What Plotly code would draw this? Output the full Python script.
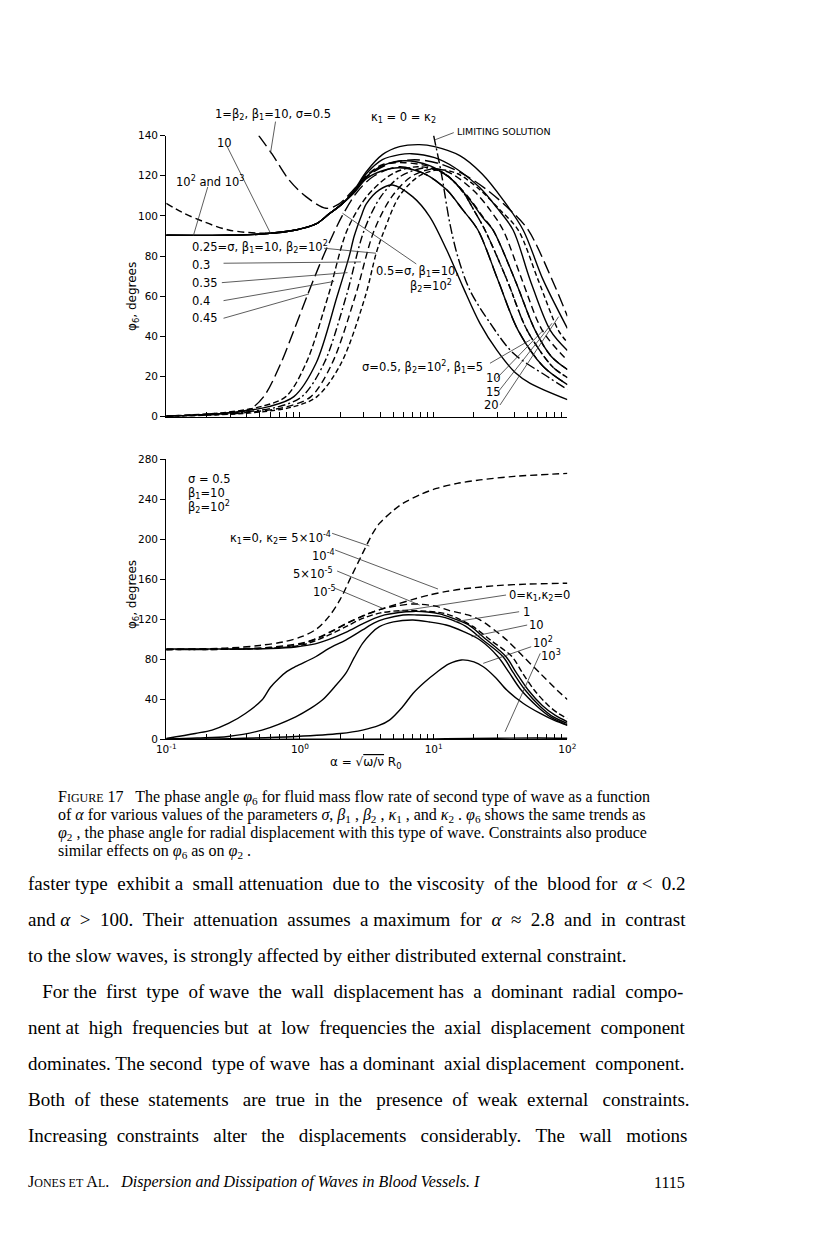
import plotly.graph_objects as go

# ================= DATA: top panel  (kappa1 = 0 = kappa2) =================
# alpha values (x, log axis) and phase angle phi6 in degrees (y)
alpha_b2_1 = [0.492, 0.616, 0.827, 1.110, 1.568, 1.964, 2.637, 3.478, 4.669, 7.197, 11.10, 16.52, 25.03, 37.27, 50.91, 77.13, 100]
phi_b2_1 = [140, 131, 118, 109.6, 103.8, 106, 114.5, 121.5, 126, 128, 126, 121, 113, 103, 93, 68, 50]

alpha_b2_10 = [0.1, 0.1297, 0.1652, 0.2925, 0.5846, 0.933, 1.319, 1.652, 2.069, 2.547, 3.136, 4.136, 6.053, 9.330, 13.19, 18.65, 23.36, 27.77, 40.64, 57.4, 75.8, 100]
phi_b2_10 = [106.3, 102, 98.8, 93, 91.4, 93, 96, 101, 106, 112.5, 120, 125.5, 126.5, 124.5, 119, 108.5, 99.5, 93, 68, 43, 30, 23.5]

alpha_b1_20 = [0.1, 0.2925, 0.518, 0.933, 1.319, 1.652, 2.069, 2.547, 3.136, 4.136, 5.551, 7.848, 10.17, 15.69, 22.96, 33.03, 46.68, 66.01, 100]
phi_b1_20 = [90.4, 90.4, 91, 93, 96, 101, 106, 113, 122, 130.5, 134.5, 135.5, 134.5, 130, 121, 108, 93, 68, 44]

alpha_b1_15 = [0.1, 0.2925, 0.518, 0.933, 1.319, 1.652, 2.069, 2.547, 3.136, 4.136, 5.551, 6.833, 10.17, 14.39, 22.18, 29.77, 39.26, 52.71, 74.50, 100]
phi_b1_15 = [90.4, 90.4, 91, 93, 96, 101, 106, 112.5, 121, 128, 130.5, 131, 129, 124, 114, 104, 93, 68, 43, 33]

alpha_ref = [0.1, 0.2925, 0.518, 0.933, 1.319, 1.652, 2.069, 2.547, 3.136, 4.136, 6.053, 9.330, 13.19, 18.65, 23.36, 27.77, 40.64, 57.4, 75.8, 100]
phi_ref = [90.4, 90.4, 91, 93, 96, 101, 106, 112, 119.5, 125, 127.5, 125, 119, 108, 99, 93, 68, 43, 30, 23.5]

alpha_b1_5 = [0.1, 0.2925, 0.518, 0.933, 1.319, 1.652, 2.069, 2.547, 3.136, 4.136, 5.551, 8.557, 12.52, 16.52, 21.42, 30.28, 42.81, 66.01, 100]
phi_b1_5 = [90.4, 90.4, 91, 93, 96, 101, 106, 111.5, 118.5, 122.5, 124, 121, 113, 103, 93, 68, 43, 25, 16]

alpha_s45 = [0.1, 0.2256, 0.4135, 0.536, 0.720, 0.901, 1.129, 1.390, 1.652, 2.069, 2.683, 3.601, 5.551, 8.557, 12.52, 16.52, 21.42, 30.28, 42.81, 66.01, 100]
phi_s45 = [0.3, 1.5, 3.5, 10, 26.6, 43, 60, 75, 86.5, 100, 112, 120, 124.5, 121, 113, 103, 93, 68, 43, 25, 16]

alpha_s40 = [0.1, 0.2683, 0.5089, 0.785, 1.110, 1.624, 2.256, 3.191, 4.918, 7.581, 12.10, 16.52, 20.33, 24.18, 35.40, 50.03, 77.13, 100]
phi_s40 = [0.3, 2, 5, 10, 26.6, 60, 93, 110, 121, 124.5, 121, 112, 102, 93, 68, 43, 25, 19.5]

alpha_s_solid = [0.1, 0.3029, 0.5846, 0.901, 1.319, 1.897, 2.336, 2.547, 2.875, 3.136, 3.926, 4.918, 6.952, 9.330, 12.52, 16.52, 22.18, 29.77, 40.64, 52.71, 100]
phi_s_solid = [0.2, 2, 5, 10, 26.6, 60, 80, 90, 100, 106, 113, 115.4, 109.6, 99.7, 83, 64.8, 46.5, 33, 22, 16.6, 8.5]

alpha_s35 = [0.1, 0.348, 0.695, 1.035, 1.515, 2.218, 3.028, 4.064, 5.746, 9.015, 12.10, 16.52, 20.33, 24.18, 35.40, 50.03, 77.13, 100]
phi_s35 = [0.2, 2, 5, 10, 26.6, 60, 93, 110, 120, 124, 121, 112, 102, 93, 68, 43, 25, 19.5]

alpha_s30 = [0.1, 0.3926, 0.7985, 1.210, 1.740, 2.591, 3.601, 4.918, 6.952, 10.17, 13.66, 20.33, 26.37, 33.03, 45.88, 64.9, 100]
phi_s30 = [0.1, 2, 5, 10, 26.6, 60, 93, 110, 120, 123.5, 121, 112, 103, 93, 68, 43, 28]

alpha_s25 = [0.1, 0.4510, 0.901, 1.342, 2.033, 3.082, 3.727, 4.281, 5.551, 7.848, 11.10, 15.15, 22.18, 31.35, 42.81, 60.53, 85.6, 100]
phi_s25 = [0.1, 2, 5, 10, 26.6, 60, 81.7, 93, 110, 120, 123, 121, 113, 103, 93, 68, 43, 37]

alpha_limit = [10.0, 11.43, 13.19, 15.15, 18.65, 26.37, 39.26, 70.73, 100]
phi_limit = [140, 121, 96.5, 79.7, 63, 46.7, 31.7, 20, 13.5]

# ================= DATA: bottom panel (sigma=0.5, beta1=10, beta2=10^2) =================
alpha_k2_5e4 = [0.1, 0.3, 0.5, 0.75, 1.04, 1.35, 1.65, 2.0, 2.4, 2.94, 3.5, 3.93, 5.0, 5.88, 8.0, 10.5, 15, 22.2, 40, 100]
phi_k2_5e4 = [90, 91.5, 94, 97.5, 103, 111, 123, 140, 162, 186, 206, 216, 229, 236, 245, 251, 256, 259.5, 263, 266]

alpha_k2_1e4 = [0.1, 0.3, 0.6, 1.04, 1.4, 1.85, 2.5, 3.3, 4.2, 5.24, 7.0, 9.33, 12.5, 16.6, 29.6, 50, 100]
phi_k2_1e4 = [90, 90.6, 92.2, 96.5, 102, 110, 119, 126, 131, 135, 140, 144.5, 148, 150.5, 153.8, 155.3, 156.2]

alpha_k2_5e5 = [0.1, 0.5, 1.04, 1.65, 2.3, 2.94, 4.0, 5.24, 7.2, 10.5, 13, 18, 22.2, 26.4, 35.2, 46.9, 62.7, 83.6, 100]
phi_k2_5e5 = [90, 91, 95.5, 107, 117, 123.5, 130, 133.5, 135.5, 133, 129, 124.5, 119.5, 112.7, 99.4, 82.7, 66, 49.4, 40]

alpha_k2_1e5 = [0.1, 0.5, 1.04, 1.65, 2.3, 2.94, 4.0, 5.9, 8.0, 12.1, 15.15, 19.64, 26.83, 38.6, 45.88, 56.5, 72.0, 85.6, 100]
phi_k2_1e5 = [90, 90.8, 94.5, 104.5, 114, 121, 126.5, 129, 128.5, 126, 121, 113, 99, 82.7, 67, 49.4, 34, 26, 21]

alpha_k0 = [0.1, 0.3, 0.6, 0.93, 1.3, 1.65, 2.2, 2.94, 3.6, 4.3, 5.5, 7.0, 9.0, 11.10, 13.66, 18.02, 24.18, 34.78, 41.36, 50.91, 64.9, 81.3, 100]
phi_k0 = [90.4, 90.4, 91, 92.5, 95.5, 100, 107, 115.5, 121, 124.5, 127, 128, 127.5, 125.5, 121.5, 115, 101, 82.7, 67, 49.4, 34, 24, 17.7]

alpha_k1 = [0.1, 0.165, 0.22, 0.292, 0.391, 0.52, 0.60, 0.695, 0.80, 0.93, 1.31, 1.65, 2.2, 2.94, 3.6, 4.3, 5.9, 7.5, 11.10, 13.66, 17.4, 23.36, 33.03, 39.26, 48.33, 62.66, 78.5, 100]
phi_k1 = [1, 6, 9.4, 16, 26, 39.4, 52, 61, 68, 73, 82.7, 91, 99.4, 109.5, 116.5, 120.5, 124.5, 124.5, 123, 119.5, 113, 99.5, 82.7, 67, 49.4, 33, 22.5, 16]

alpha_k10 = [0.1, 0.17, 0.29, 0.52, 0.93, 1.2, 1.47, 1.8, 2.2, 2.55, 2.94, 3.4, 3.93, 5.0, 7.0, 9.3, 12.4, 16.6, 22.2, 30.28, 36.6, 45.1, 59.5, 75.8, 100]
phi_k10 = [0.5, 1.5, 3, 9.4, 22.7, 31, 39.4, 52, 66, 82, 96, 106, 112.7, 117.5, 119.4, 117.5, 114.4, 108, 99.4, 82.7, 67, 49.4, 33, 22, 14.4]

alpha_k100 = [0.1, 0.3, 0.93, 2.0, 2.94, 3.9, 4.67, 5.8, 7.0, 8.5, 10.5, 13, 16.1, 20, 23.5, 29, 35.2, 46.9, 62.7, 80, 100]
phi_k100 = [0.2, 0.8, 3, 6, 9.4, 14, 19.4, 32, 46, 57, 67, 75.5, 79.5, 77.5, 72.7, 62, 49.4, 36, 26, 19, 14]

alpha_k1000 = [0.1, 1, 10, 30, 60, 100]
phi_k1000 = [0, 0.2, 0.6, 1.2, 1.5, 1.2]

# axis ticks
x_major = [0.1, 1, 10, 100]
x_major_text = ["10<sup>-1</sup>", "10<sup>0</sup>", "10<sup>1</sup>", "10<sup>2</sup>"]
x_minor = [0.2, 0.3, 0.4, 0.5, 0.6, 0.7, 0.8, 0.9,
           2, 3, 4, 5, 6, 7, 8, 9,
           20, 30, 40, 50, 60, 70, 80, 90]
y_top_ticks = [0, 20, 40, 60, 80, 100, 120, 140]
y_bot_ticks = [0, 40, 80, 120, 160, 200, 240, 280]

# ================= LAYOUT HELPERS =================
W, H = 800, 1231      # figure size; the page body adds an 8 px margin
OX, OY = 8, 8
# empirical correction between requested and photographed page positions
KX, BX = 0.971, 12.8
KY, BY = 0.990, 6.2


def px(X):
    return ((X - BX) / KX - OX) / W


def py(Y):
    return 1 - ((Y - BY) / KY - OY) / H


DASH = "7px,4px"
SDASH = "5px,3px"
LDASH = "13px,5px"
DDOT = "8px,3px,2px,3px"

top_traces = [
    (alpha_b2_1, phi_b2_1, LDASH),
    (alpha_b2_10, phi_b2_10, DASH),
    (alpha_b1_20, phi_b1_20, "solid"),
    (alpha_b1_15, phi_b1_15, "solid"),
    (alpha_ref, phi_ref, "solid"),
    (alpha_b1_5, phi_b1_5, "solid"),
    (alpha_s45, phi_s45, LDASH),
    (alpha_s40, phi_s40, "6px,3px"),
    (alpha_s_solid, phi_s_solid, "solid"),
    (alpha_s35, phi_s35, DDOT),
    (alpha_s30, phi_s30, DASH),
    (alpha_s25, phi_s25, SDASH),
    (alpha_limit, phi_limit, "10px,3px,2px,3px"),
]
bot_traces = [
    (alpha_k2_5e4, phi_k2_5e4, DASH),
    (alpha_k2_1e4, phi_k2_1e4, DASH),
    (alpha_k2_5e5, phi_k2_5e5, DASH),
    (alpha_k2_1e5, phi_k2_1e5, "6px,3px"),
    (alpha_k0, phi_k0, "solid"),
    (alpha_k1, phi_k1, "solid"),
    (alpha_k10, phi_k10, "solid"),
    (alpha_k100, phi_k100, "solid"),
    (alpha_k1000, phi_k1000, "solid"),
]

fig = go.Figure()
for xs, ys, d in top_traces:
    fig.add_trace(go.Scatter(x=xs, y=ys, mode="lines", xaxis="x", yaxis="y",
                             line=dict(color="black", width=1.4, dash=d, shape="spline", smoothing=0.9),
                             showlegend=False, hoverinfo="skip"))
for xs, ys, d in bot_traces:
    fig.add_trace(go.Scatter(x=xs, y=ys, mode="lines", xaxis="x2", yaxis="y2",
                             line=dict(color="black", width=1.4, dash=d, shape="spline", smoothing=0.9),
                             showlegend=False, hoverinfo="skip"))

SANS = "DejaVu Sans"
SERIF = "Liberation Serif"
all_x_ticks = sorted(x_major + x_minor)
bot_text = [x_major_text[x_major.index(v)] if v in x_major else "" for v in all_x_ticks]

common_x = dict(type="log", range=[-1, 2], domain=[px(168), px(567)], showline=True,
                linecolor="black", linewidth=1.2, ticks="inside", ticklen=5, tickwidth=1,
                tickcolor="black", showgrid=False, zeroline=False, tickmode="array",
                tickvals=all_x_ticks)
common_y = dict(showline=True, linecolor="black", linewidth=1.2, ticks="outside", ticklen=5,
                tickwidth=1, tickcolor="black", showgrid=False, zeroline=False, tickmode="array",
                tickfont=dict(family=SANS, size=10.5, color="black"))

fig.update_layout(
    width=W, height=H, margin=dict(l=0, r=0, t=0, b=0),
    paper_bgcolor="white", plot_bgcolor="white",
    font=dict(family=SANS, size=11, color="black"),
    xaxis=dict(common_x, anchor="y", showticklabels=False),
    yaxis=dict(common_y, anchor="x", range=[0, 140], tickvals=y_top_ticks,
               domain=[py(416.7), py(135.7)]),
    xaxis2=dict(common_x, anchor="y2", ticktext=bot_text, showticklabels=True,
                tickfont=dict(family=SANS, size=10.5, color="black")),
    yaxis2=dict(common_y, anchor="x2", range=[0, 280], tickvals=y_bot_ticks,
                domain=[py(739.4), py(459.4)]),
)

ann = []


def label(X, Y, text, size=11.5, family=SANS, anchor="left", angle=0):
    ann.append(dict(x=px(X), y=py(Y), xref="paper", yref="paper", text=text, showarrow=False,
                    xanchor=anchor, yanchor="middle", textangle=angle,
                    font=dict(family=family, size=size, color="black")))


shapes = []


def leader(X0, Y0, X1, Y1):
    shapes.append(dict(type="line", xref="paper", yref="paper", x0=px(X0), y0=py(Y0),
                       x1=px(X1), y1=py(Y1), line=dict(color="#333", width=0.8)))


def justify(text, extra):
    # spread `extra` non-breaking spaces evenly over the word gaps of a line
    words = text.split(" ")
    gaps = len(words) - 1
    out = words[0]
    for i in range(1, len(words)):
        n = (extra * i) // gaps - (extra * (i - 1)) // gaps
        out += " " + "\u00a0" * n + words[i]
    return out


# ---- top panel labels ----
label(215, 115, "1=β<sub>2</sub>, β<sub>1</sub>=10, σ=0.5")
label(370, 118, "κ<sub>1</sub> = 0 = κ<sub>2</sub>")
label(455, 132, "LIMITING SOLUTION", size=9.5)
label(217, 142.7, "10")
label(176, 181.7, "10<sup>2</sup> and 10<sup>3</sup>")
label(192, 246.7, "0.25=σ, β<sub>1</sub>=10, β<sub>2</sub>=10<sup>2</sup>")
label(192, 265, "0.3")
label(192, 282.7, "0.35")
label(192, 300.7, "0.4")
label(192, 318.3, "0.45")
label(375, 271.7, "0.5=σ, β<sub>1</sub>=10,")
label(408, 286, "β<sub>2</sub>=10<sup>2</sup>")
label(361, 366.7, "σ=0.5, β<sub>2</sub>=10<sup>2</sup>, β<sub>1</sub>=5")
label(484, 378.3, "10")
label(484, 391.7, "15")
label(482, 405, "20")

leader(276.7, 121.7, 271.7, 153.3)
leader(454, 132.7, 435, 140)
leader(228.3, 146, 271.7, 233.3)
leader(209.3, 187, 195, 235.7)
leader(325, 248.3, 376.7, 253.3)
leader(225, 263.3, 361.7, 262)
leader(223.3, 282.7, 348.3, 272.7)
leader(225, 300.7, 335, 281.5)
leader(225, 318.3, 310, 294)
leader(416.7, 264, 343.3, 213.3)
leader(490, 363.3, 530, 340)
leader(496.7, 378.3, 543.3, 330)
leader(498.3, 391.7, 551.7, 323.3)
leader(500, 405, 558.3, 316.7)

# ---- bottom panel labels ----
label(188, 479, "σ = 0.5")
label(188, 493, "β<sub>1</sub>=10")
label(188, 507, "β<sub>2</sub>=10<sup>2</sup>")
label(229, 538, "κ<sub>1</sub>=0, κ<sub>2</sub>= 5×10<sup>-4</sup>")
label(311, 555, "10<sup>-4</sup>")
label(292, 573, "5×10<sup>-5</sup>")
label(312, 591, "10<sup>-5</sup>")
label(507, 595, "0=κ<sub>1</sub>,κ<sub>2</sub>=0")
label(521, 611.7, "1")
label(527, 625, "10")
label(531, 642, "10<sup>2</sup>")
label(539, 655, "10<sup>3</sup>")

leader(333, 533.3, 370, 546)
leader(336, 550, 438.3, 589)
leader(338, 571, 420, 605)
leader(336, 588.3, 383.3, 608.3)
leader(506, 595, 395, 612)
leader(519, 611.7, 455, 621.7)
leader(527, 625, 471.7, 636.7)
leader(531, 646.7, 483.3, 663.3)
leader(540, 653.3, 505, 731.7)

# axis titles
label(135, 297, "φ<sub>6</sub>, degrees", size=12, anchor="center", angle=-90)
label(135, 595, "φ<sub>6</sub>, degrees", size=12, anchor="center", angle=-90)
label(367, 763, "α = √<span style='text-decoration:overline'>ω/ν</span> R<sub>0</sub>", size=12, anchor="center")

# ---- caption ----
cap = [
    "F<span style='font-size:12px'>IGURE</span> 17   The phase angle <i>φ</i><sub>6</sub> for fluid mass flow rate of second type of wave as a function",
    "of <i>α</i> for various values of the parameters <i>σ</i>, <i>β</i><sub>1</sub> , <i>β</i><sub>2</sub> , <i>κ</i><sub>1</sub> , and <i>κ</i><sub>2</sub> . <i>φ</i><sub>6</sub> shows the same trends as",
    "<i>φ</i><sub>2</sub> , the phase angle for radial displacement with this type of wave. Constraints also produce",
    "similar effects on <i>φ</i><sub>6</sub> as on <i>φ</i><sub>2</sub> .",
]
for i, t in enumerate(cap):
    label(58, 797 + 18 * i, t, size=16, family=SERIF)

body = [
    justify("faster type exhibit a small attenuation due to the viscosity of the blood for <i>α</i> < 0.2", 8),
    justify("and <i>α</i> > 100. Their attenuation assumes a maximum for <i>α</i> ≈ 2.8 and in contrast", 13),
    "to the slow waves, is strongly affected by either distributed external constraint.",
    "\u00a0\u00a0\u00a0" + justify("For the first type of wave the wall displacement has a dominant radial compo-", 10),
    justify("nent at high frequencies but at low frequencies the axial displacement component", 8),
    justify("dominates. The second type of wave has a dominant axial displacement component.", 4),
    justify("Both of these statements are true in the presence of weak external constraints.", 15),
    justify("Increasing constraints alter the displacements considerably. The wall motions", 15),
]
for i, t in enumerate(body):
    label(29, 883 + 36 * i, t, size=19, family=SERIF)

label(29, 1182, "J<span style='font-size:12px'>ONES ET</span> A<span style='font-size:12px'>L</span>.\u00a0\u00a0\u00a0<i>Dispersion and Dissipation of Waves in Blood Vessels. I</i>",
      size=16, family=SERIF)
label(686, 1182, "1115", size=16, family=SERIF, anchor="right")

fig.update_layout(annotations=ann, shapes=shapes)
fig.write_html("out.html")
